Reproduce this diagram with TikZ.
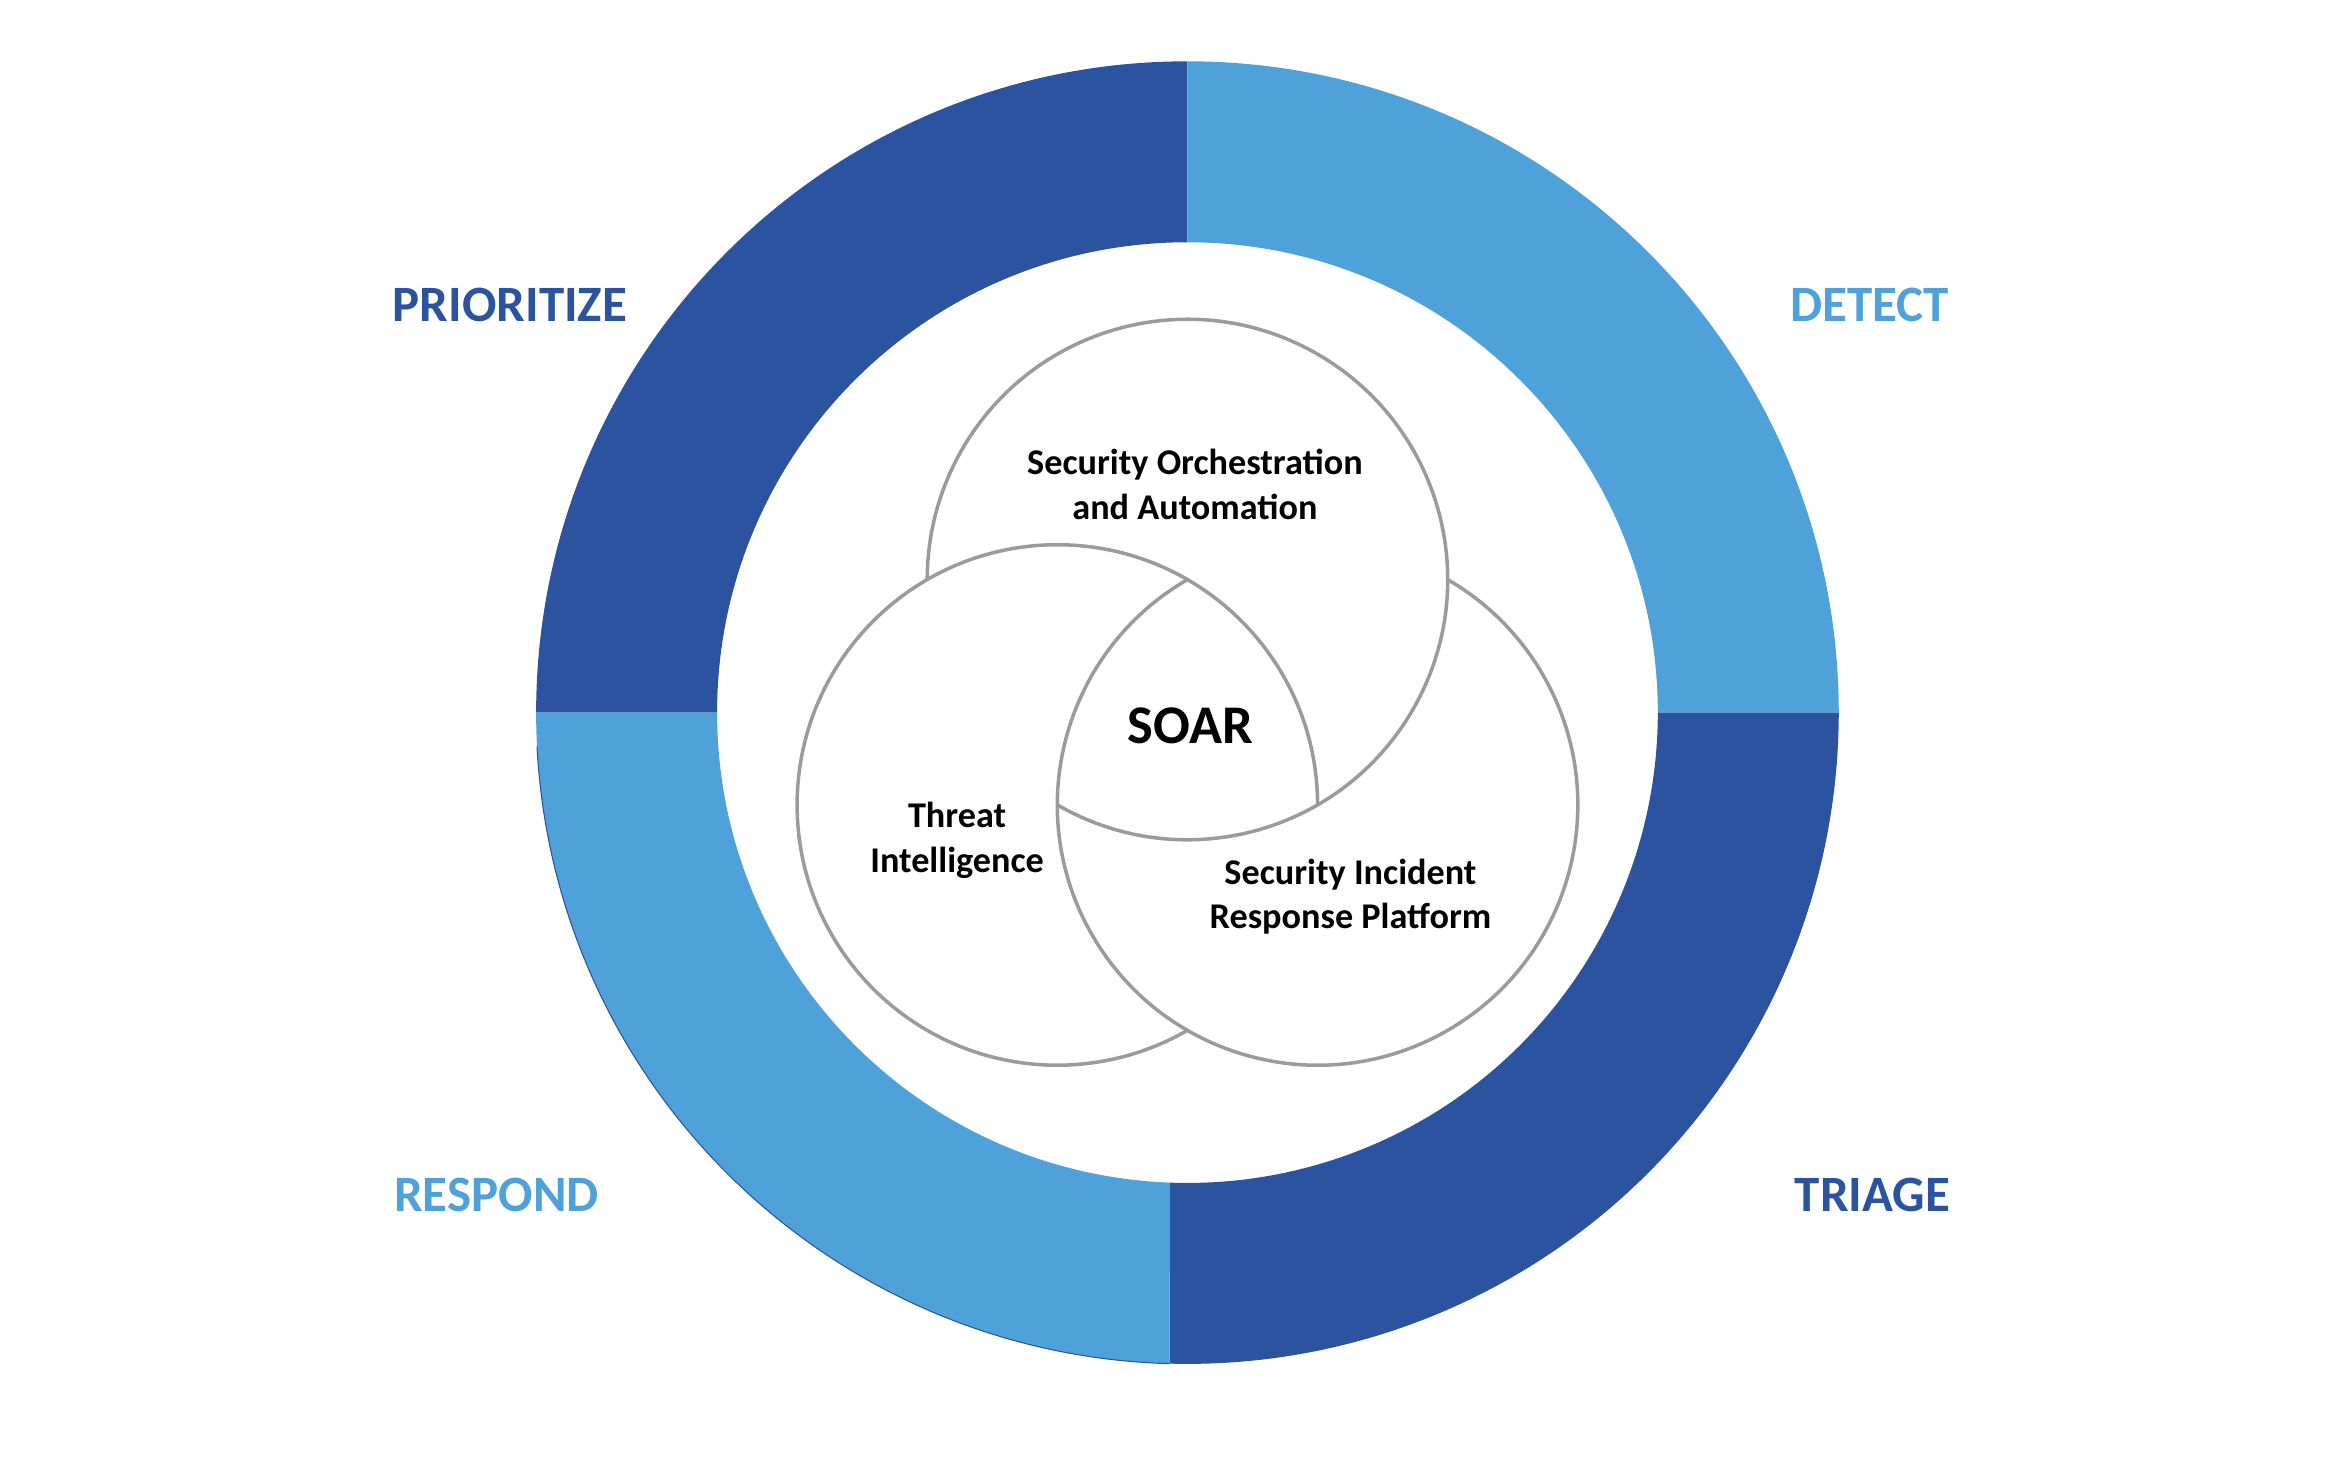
\documentclass[tikz,border=0pt]{standalone}
\usepackage{fontspec}
\setmainfont{Carlito}
\definecolor{ringdark}{RGB}{43,83,160}
\definecolor{ringlight}{RGB}{79,162,217}
\definecolor{venngray}{RGB}{155,155,155}

\begin{document}
\begin{tikzpicture}[x=0.014955cm,y=0.014955cm,
  phase/.style={font=\bfseries\fontsize{14.5}{17}\selectfont,inner sep=0pt},
  area/.style={font=\bfseries\fontsize{10.3}{12.75}\selectfont,align=center,inner sep=0pt},
  venn/.style={draw=venngray,line width=1pt}]

  \useasboundingbox (-794,-497.5) rectangle (774,476.5);

  % ring of four phases
  \fill[ringdark] (90:435.5) arc (90:180:435.5) -- (180:314.5) arc (180:90:314.5) -- cycle;
  \fill[ringlight] (0:435.5) arc (0:90:435.5) -- (90:314.5) arc (90:0:314.5) -- cycle;
  \fill[ringdark] (-91.58:435.5) arc (-91.58:0:435.5) -- (0:314.5) arc (0:-92.19:314.5) -- cycle;
  \fill[ringlight] (180:435.5) arc (180:268.42:435.5) -- (267.81:314.5) arc (267.81:180:314.5) -- cycle;
  \draw[ringdark,line width=0.3pt] (183:435.5) arc (183:268.42:435.5);

  % three circles
  \coordinate (T) at (0,89);
  \coordinate (L) at (-87,-61.75);
  \coordinate (R) at (87,-61.75);
  \draw[venn] (T) ++(240:174) arc (240:540:174);
  \draw[venn] (L) ++(0:174) arc (0:300:174);
  \draw[venn] (R) ++(120:174) arc (120:420:174);

  \node[area] (orch) at (5,152.5) {Security Orchestration\\and Automation};
  \node[font=\bfseries\fontsize{15.5}{18}\selectfont,inner sep=0pt] (soar) at (2,-8.5) {SOAR};
  \node[area] (threat) at (-154,-85.5) {Threat\\Intelligence};
  \node[area] (sirp) at (109,-123) {Security Incident\\Response Platform};

  \node[phase,text=ringdark] (prio) at (-453,272.5) {PRIORITIZE};
  \node[phase,text=ringlight] (detect) at (456,272.5) {DETECT};
  \node[phase,text=ringlight] (respond) at (-462,-322.5) {RESPOND};
  \node[phase,text=ringdark] (triage) at (458,-322.5) {TRIAGE};
\end{tikzpicture}
\end{document}
